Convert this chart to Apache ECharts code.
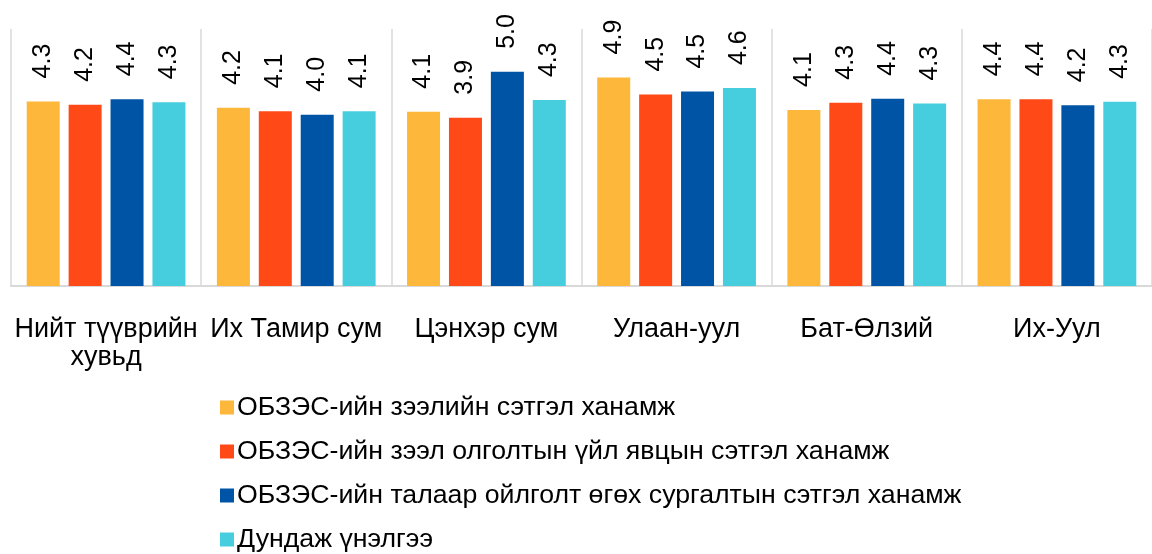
<!DOCTYPE html>
<html>
<head>
<meta charset="utf-8">
<script src="https://cdn.jsdelivr.net/npm/echarts@6/dist/echarts.min.js"></script>
<style>
  html, body { margin: 0; padding: 0; background: #fff; }
  #chart { width: 1152px; height: 554px; }
</style>
</head>
<body>
<div id="chart"></div>
<script>
const categories = ['Нийт түүврийн\nхувьд', 'Их Тамир сум', 'Цэнхэр сум', 'Улаан-уул', 'Бат-Өлзий', 'Их-Уул']

const seriesNames = [
  'ОБЗЭС-ийн зээлийн сэтгэл ханамж',
  'ОБЗЭС-ийн зээл олголтын үйл явцын сэтгэл ханамж',
  'ОБЗЭС-ийн талаар ойлголт өгөх сургалтын сэтгэл ханамж',
  'Дундаж үнэлгээ'
]

// values, labels are the rounded ones
const loanSatisfaction = [4.31, 4.16, 4.07, 4.87, 4.11, 4.36]
const processSatisfaction = [4.23, 4.08, 3.93, 4.47, 4.28, 4.36]
const trainingSatisfaction = [4.36, 4.0, 5.0, 4.54, 4.37, 4.22]
const averageScore = [4.29, 4.08, 4.34, 4.62, 4.26, 4.3]

const colors = ['#FDB73B', '#FF4A17', '#0054A5', '#46CEDF']
const font = "'Liberation Sans', Arial, sans-serif"

const allData = [loanSatisfaction, processSatisfaction, trainingSatisfaction, averageScore]

const myChart = echarts.init(document.getElementById('chart'))

const series = allData.map((data, i) => {
  return {
    name: seriesNames[i],
    type: 'bar',
    data: data,
    barWidth: 33,
    barGap: '27%',
    itemStyle: { color: colors[i] },
    label: {
      show: true,
      position: 'top',
      rotate: 90,
      align: 'left',
      verticalAlign: 'middle',
      distance: 23,
      color: '#000',
      fontSize: 25,
      fontFamily: font,
      formatter: (p) => p.value.toFixed(1)
    }
  }
})

const option = {
  animation: false,
  legend: {
    orient: 'vertical',
    left: 215,
    top: 389,
    height: 220,
    itemWidth: 14,
    itemHeight: 14,
    itemGap: 17,
    icon: 'rect',
    textStyle: {
      fontSize: 26.7,
      fontFamily: font,
      color: '#000',
      padding: [0, 0, 0, -2]
    },
    data: seriesNames
  },
  grid: {
    left: 11,
    right: -10,
    top: 29,
    bottom: 268,
    containLabel: false
  },
  xAxis: {
    type: 'category',
    data: categories,
    axisTick: { show: false },
    axisLine: {
      show: true,
      lineStyle: { color: '#D9D9D9', width: 2 }
    },
    splitLine: {
      show: true,
      lineStyle: { color: '#D9D9D9', width: 1.5 }
    },
    axisLabel: {
      interval: 0,
      margin: 30,
      fontSize: 27,
      lineHeight: 28,
      fontFamily: font,
      color: '#000'
    }
  },
  yAxis: {
    type: 'value',
    min: 0,
    max: 6,
    show: false,
    splitLine: { show: false }
  },
  series: series
}

myChart.setOption(option)
</script>
</body>
</html>
